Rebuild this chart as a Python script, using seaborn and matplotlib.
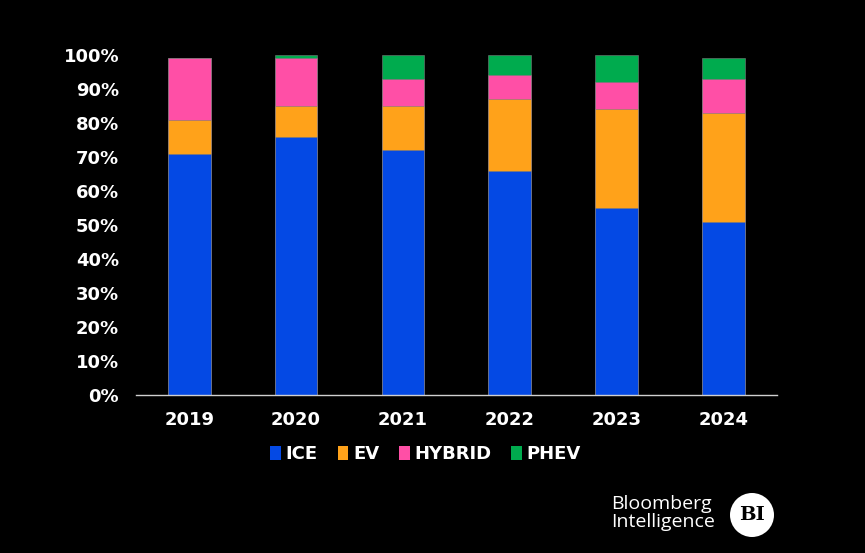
import numpy as np
import pandas as pd
import matplotlib
matplotlib.use("Agg")
import matplotlib.pyplot as plt
import seaborn as sns
from matplotlib.patches import Patch, Circle

# Data (share of sales, %)
years = ['2019', '2020', '2021', '2022', '2023', '2024']
ice = [71, 76, 72, 66, 55, 51]
ev = [10, 9, 13, 21, 29, 32]
hybrid = [18, 14, 8, 7, 8, 10]
phev = [0, 1, 7, 6, 8, 6]

series = ['ICE', 'EV', 'HYBRID', 'PHEV']
colors = ['#0449e4', '#ffa21a', '#ff4fa6', '#00ab4e']

sns.set_theme(style="dark")
plt.rcParams['font.family'] = ['DejaVu Sans']

df = pd.DataFrame({'Year': years, 'ICE': ice, 'EV': ev, 'HYBRID': hybrid, 'PHEV': phev})
# cumulative totals so the stacked look comes from overlaying bars
cum = df[series].cumsum(axis=1) / 100.0
cum['Year'] = df['Year']

fig = plt.figure(figsize=(8.65, 5.53), dpi=100, facecolor='black')
ax = fig.add_axes([0.157, 0.285, 0.741, 0.6155])
ax.set_facecolor('black')

for name, col in reversed(list(zip(series, colors))):
    sns.barplot(x='Year', y=name, data=cum, color=col, width=0.4,
                edgecolor='#7a7a7a', linewidth=0.4, saturation=1, ax=ax)

ax.set_xlim(-0.5, 5.5)
ax.set_ylim(0, 1.0)
ax.set_yticks(np.arange(0, 1.01, 0.1))
ax.set_yticklabels([f"{int(v)}%" for v in np.arange(0, 101, 10)])
ax.set_xlabel('')
ax.set_ylabel('')
ax.grid(False)
for s in ['top', 'right', 'left']:
    ax.spines[s].set_visible(False)
ax.spines['bottom'].set_color('#d0d0d0')
ax.spines['bottom'].set_linewidth(1.0)
ax.tick_params(axis='both', length=0, colors='white', labelsize=13)
ax.tick_params(axis='y', pad=12)
ax.tick_params(axis='x', pad=11)
for lab in ax.get_xticklabels() + ax.get_yticklabels():
    lab.set_fontweight('bold')
    lab.set_color('white')

handles = [Patch(facecolor=c, edgecolor='none', label=n) for n, c in zip(series, colors)]
leg = fig.legend(handles=handles, loc='center', bbox_to_anchor=(0.492, 0.179), ncol=4,
                 frameon=False, handlelength=0.6, handleheight=0.8, handletextpad=0.25,
                 columnspacing=1.1, prop={'weight': 'bold', 'size': 13})
for t in leg.get_texts():
    t.set_color('white')

# Bloomberg Intelligence logo
fig.text(0.707, 0.072, 'Bloomberg\nIntelligence', color='white', fontsize=14,
         ha='left', va='center', linespacing=1.0, family='Open Sans', fontweight='medium')
circ = Circle((752, 553 - 515), 22, transform=None, facecolor='white', edgecolor='none')
fig.patches.append(circ)
fig.text(752 / 865, 1 - 515 / 553, 'BI', color='black', fontsize=14, fontweight='bold',
         ha='center', va='center', family='DejaVu Serif')

fig.savefig('out.png', dpi=100, facecolor='black')
